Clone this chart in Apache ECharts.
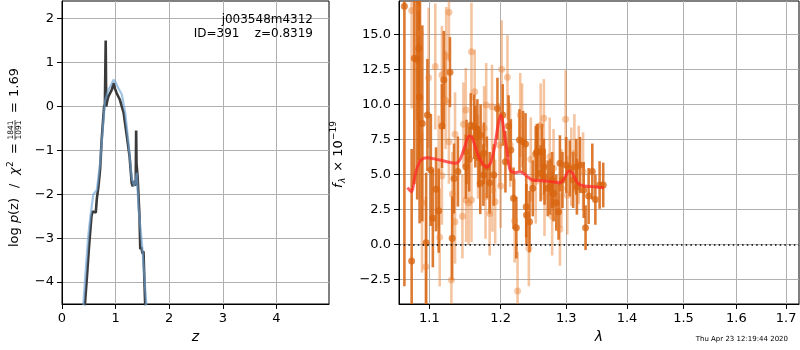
<!DOCTYPE html>
<html>
<head>
<meta charset="utf-8">
<script src="https://cdn.jsdelivr.net/npm/echarts@6/dist/echarts.min.js"></script>
<style>
  html, body { margin: 0; padding: 0; background: #fff; }
  #main { width: 800px; height: 350px; }
</style>
</head>
<body>
<div id="main"></div>
<script>
let mychart = echarts.init(document.getElementById('main'));
let option = null

const FONT = 'DejaVu Sans'

// left panel: log p(z) curves
let pzZ = [0.42, 0.43, 0.47, 0.51, 0.55, 0.57, 0.60, 0.63, 0.65, 0.68, 0.70, 0.71, 0.74, 0.785, 0.80, 0.815, 0.825, 0.84, 0.866, 0.90, 0.93, 0.96, 0.99, 1.02, 1.08, 1.15, 1.21, 1.26, 1.30, 1.32, 1.34, 1.36, 1.375, 1.383, 1.39, 1.41, 1.445, 1.46, 1.48, 1.50, 1.52, 1.55, 1.56]
let pzLog = [-5.0, -4.47, -3.8, -3.1, -2.5, -2.39, -2.36, -2.42, -2.1, -1.82, -1.85, -1.44, -0.76, 0.0, 0.05, 1.5, 0.0, 0.1, 0.23, 0.25, 0.38, 0.53, 0.4, 0.3, 0.15, -0.15, -0.68, -1.14, -1.74, -1.82, -1.7, -1.8, -1.75, -0.55, -1.3, -1.6, -2.5, -3.25, -3.2, -3.35, -3.3, -4.47, -5.0]
let chiZ = [0.39, 0.40, 0.45, 0.49, 0.53, 0.585, 0.62, 0.65, 0.68, 0.71, 0.76, 0.80, 0.866, 0.92, 0.96, 1.0, 1.05, 1.115, 1.18, 1.24, 1.30, 1.346, 1.37, 1.395, 1.41, 1.43, 1.49, 1.52, 1.57, 1.58]
let chiLog = [-5.0, -4.47, -3.6, -2.95, -2.5, -2.0, -1.95, -1.9, -1.6, -1.29, -0.53, 0.11, 0.38, 0.5, 0.61, 0.55, 0.42, 0.27, -0.15, -0.83, -1.63, -1.82, -1.7, -1.51, -1.9, -2.35, -3.1, -3.6, -4.47, -5.0]

// right panel: spectrum, two orientations
let darkWave = [1.067, 1.0765, 1.080, 1.0838, 1.086, 1.087, 1.0906, 1.0957, 1.0974, 1.102, 1.1047, 1.109, 1.1126, 1.117, 1.1196, 1.128, 1.131, 1.1336, 1.139, 1.150, 1.151, 1.1547, 1.157, 1.1617, 1.1635, 1.1664, 1.168, 1.1705, 1.171, 1.175, 1.1757, 1.18, 1.184, 1.19, 1.1953, 1.203, 1.207, 1.2116, 1.215, 1.219, 1.2232, 1.2279, 1.2333, 1.237, 1.238, 1.2384, 1.243, 1.248, 1.2525, 1.254, 1.256, 1.26, 1.262, 1.265, 1.266, 1.271, 1.275, 1.2778, 1.28, 1.2843, 1.2879, 1.29, 1.294, 1.300, 1.3056, 1.311, 1.316, 1.317, 1.322, 1.328, 1.331, 1.336, 1.342, 1.347, 1.354, 1.36]
let darkFlux = [17.0, -1.19, 13.3, 13.2, 14.0, 10.5, 8.64, 0.12, 9.24, 5.31, 1.86, 3.93, 2.4, 8.45, 11.74, 12.3, 0.43, 4.7, 5.2, 5.54, 6.6, 6.07, 8.5, 8.4, 7.69, 8.17, 6.26, 4.36, 7.8, 4.95, 6.5, 5.5, 4.4, 4.95, 9.7, 9.24, 5.9, 8.45, 6.74, 3.29, 1.19, 7.45, 7.33, 7.17, 2.69, 2.1, 1.62, 4.0, 6.45, 6.6, 6.62, 5.07, 6.6, 5.54, 4.83, 4.0, 4.12, 4.6, 3.64, 2.98, 2.33, 5.79, 4.6, 5.67, 5.43, 4.6, 5.54, 4.12, 5.67, 3.88, 1.19, 3.45, 5.2, 3.2, 4.24, 4.24]
let darkErr = [20, 8, 9, 10, 8, 9, 7, 5, 4, 4, 3.5, 3, 3, 3, 3.5, 2.5, 3, 2.5, 2.5, 2.3, 2.3, 2.3, 2.3, 2.3, 2.2, 2.2, 2.2, 2.2, 2.2, 2.2, 2.2, 2.2, 2.2, 2.2, 2.2, 2.2, 2.2, 2.2, 2.2, 2.2, 2.2, 2.2, 2.2, 2.2, 2.2, 2.2, 2.2, 2.0, 2.0, 2.0, 2.0, 2.0, 2.0, 2.0, 2.0, 2.0, 2.0, 2.0, 2.0, 2.0, 2.0, 2.0, 2.0, 2.0, 2.0, 2.0, 2.0, 2.0, 2.0, 2.0, 1.6, 2.0, 2.0, 1.8, 1.7, 1.6]

let lightWave = [1.0765, 1.083, 1.088, 1.0902, 1.0953, 1.099, 1.108, 1.1126, 1.114, 1.117, 1.117, 1.122, 1.1229, 1.1266, 1.1266, 1.13, 1.1313, 1.135, 1.135, 1.1453, 1.1467, 1.15, 1.1505, 1.154, 1.158, 1.158, 1.1626, 1.1673, 1.176, 1.178, 1.179, 1.184, 1.1874, 1.188, 1.192, 1.198, 1.2015, 1.2, 1.21, 1.214, 1.2207, 1.225, 1.229, 1.2318, 1.242, 1.245, 1.2525, 1.26, 1.265, 1.266, 1.274, 1.2778, 1.28, 1.29, 1.2924, 1.299, 1.3017, 1.308, 1.313, 1.32, 1.327]
let lightFlux = [16.7, 16.9, 15.07, 2.98, -1.6, 11.9, 12.7, 5.2, 0.5, 4.9, 12.1, 10.3, 13.45, 7.33, 16.57, -2.55, 3.6, 7.86, 1.62, 2.0, 8.57, 9.6, 3.17, 2.98, 3.17, 13.76, 10.9, 6.26, 8.3, 3.4, 9.95, 2.2, 9.83, 3.9, 3.05, 7.1, 12.5, 4.17, 11.93, 7.1, 1.69, -3.33, 9.24, 8.5, -0.29, 6.07, 4.48, 8.5, 9.0, 3.4, 6.26, 2.0, 5.43, 1.07, 4.0, 8.93, 3.5, 5.55, 6.5, 5.67, 5.2]
let lightErr = [7, 8, 8, 5, 5, 5, 4.5, 4, 3.5, 3.5, 3.5, 3.5, 3.5, 3, 3.5, 3, 3, 3, 3, 3, 3, 3, 3, 3, 3, 3.5, 3, 3, 3, 3, 3, 3, 3, 3, 3, 3, 3.5, 3, 3, 3, 3, 2.8, 3, 3, 2.7, 3, 3, 3, 2.8, 2.8, 2.8, 2.8, 2.8, 2.6, 2.8, 3.5, 2.8, 2.8, 2.8, 2.8, 2.8]

let modelWave = [1.071, 1.076, 1.0816, 1.088, 1.097, 1.110, 1.124, 1.136, 1.142, 1.1486, 1.1547, 1.1593, 1.1664, 1.1734, 1.18, 1.186, 1.192, 1.1967, 1.2005, 1.204, 1.209, 1.214, 1.2217, 1.229, 1.237, 1.247, 1.26, 1.275, 1.29, 1.297, 1.3044, 1.31, 1.318, 1.328, 1.345, 1.361]
let modelFlux = [4.05, 3.76, 5.07, 5.98, 6.19, 6.07, 5.9, 5.79, 6.07, 6.98, 7.74, 7.57, 6.5, 5.79, 5.5, 5.9, 7.21, 8.64, 9.24, 8.4, 6.74, 5.31, 5.12, 5.19, 4.95, 4.6, 4.55, 4.48, 4.4, 4.71, 5.24, 5.07, 4.4, 4.17, 4.12, 4.05]

let zTicks = [0, 1, 2, 3, 4]
let pzTicks = [-4, -3, -2, -1, 0, 1, 2]
let waveTicks = [1.1, 1.2, 1.3, 1.4, 1.5, 1.6, 1.7]
let fluxTicks = [-2.5, 0, 2.5, 5, 7.5, 10, 12.5, 15]

function pairs(xs, ys) {
    return xs.map((x, i) => [x, ys[i]])
}
function logPairs(xs, ys, es) {
    return xs.map((x, i) => es ? [Math.log10(x), ys[i], es[i]] : [Math.log10(x), ys[i]])
}
function minus(s) {
    return String(s).replace('-', '\u2212')
}

function errorBars(color) {
    return function (params, api) {
        let x = api.value(0), y = api.value(1), e = api.value(2)
        let p1 = api.coord([x, y + e])
        let p2 = api.coord([x, y - e])
        let cs = params.coordSys
        let top = cs.y, bot = cs.y + cs.height
        let y1 = Math.max(p1[1], top), y2 = Math.min(p2[1], bot)
        if (y2 <= y1) return null
        return {
            type: 'line',
            shape: { x1: p1[0], y1: y1, x2: p1[0], y2: y2 },
            style: { stroke: color, lineWidth: 2.6 }
        }
    }
}

let axisCommon = {
    axisLine: { show: true, onZero: false, lineStyle: { color: '#000', width: 1 } },
    axisTick: { show: true, inside: false, length: 5, lineStyle: { color: '#000', width: 1 } },
    splitLine: { show: true, lineStyle: { color: '#b0b0b0', width: 1 } },
    axisLabel: { color: '#000', fontSize: 13, fontFamily: FONT, margin: 8 }
}

function axis(extra, ticks, fmt) {
    let a = JSON.parse(JSON.stringify(axisCommon))
    a.axisTick.customValues = ticks
    a.axisLabel.customValues = ticks
    a.axisLabel.formatter = fmt
    return Object.assign(a, extra)
}

// small helper for the rotated label pieces
function txt(x, y, s, size, italic) {
    return {
        type: 'text', x: x, y: y,
        style: {
            text: s, fontSize: size, fontFamily: FONT, fontStyle: italic ? 'italic' : 'normal',
            fill: '#000', align: 'left', verticalAlign: 'middle'
        }
    }
}

option = {
    animation: false,
    backgroundColor: '#fff',
    grid: [
        { left: 62, right: 471, top: 1, bottom: 46, show: true, borderColor: '#000', borderWidth: 1, backgroundColor: 'transparent' },
        { left: 399, right: 1, top: 1, bottom: 46, show: true, borderColor: '#000', borderWidth: 1, backgroundColor: 'transparent' }
    ],
    xAxis: [
        axis({
            type: 'value', gridIndex: 0, min: 0, max: 4.98,
            name: 'z', nameLocation: 'middle', nameGap: 25,
            nameTextStyle: { fontSize: 14, fontStyle: 'italic', fontFamily: FONT, color: '#000' }
        }, zTicks, v => minus(v)),
        axis({
            type: 'value', gridIndex: 1, min: Math.log10(1.06), max: Math.log10(1.727),
            name: 'λ', nameLocation: 'middle', nameGap: 25,
            nameTextStyle: { fontSize: 14, fontStyle: 'italic', fontFamily: FONT, color: '#000' }
        }, waveTicks.map(v => Math.log10(v)), v => Math.pow(10, v).toFixed(1))
    ],
    yAxis: [
        axis({ type: 'value', gridIndex: 0, min: -4.5, max: 2.4 }, pzTicks, v => minus(v)),
        axis({ type: 'value', gridIndex: 1, min: -4.26, max: 17.38 }, fluxTicks, v => minus(v.toFixed(1)))
    ],
    graphic: [
        {
            type: 'text', x: 313, y: 20, z: 100,
            style: { text: 'j003548m4312', fill: '#000', fontSize: 12, fontFamily: FONT, align: 'right', verticalAlign: 'middle' }
        },
        {
            type: 'text', x: 313, y: 34, z: 100,
            style: { text: 'ID=391    z=0.8319', fill: '#000', fontSize: 12, fontFamily: FONT, align: 'right', verticalAlign: 'middle' }
        },
        {
            type: 'group', x: 15, y: 247, rotation: Math.PI / 2, z: 100,
            children: [
                txt(0, 0, 'log', 13),
                txt(24, 0, 'p', 13, true),
                txt(32, 0, '(z)', 13),
                txt(59, 0, '/', 13),
                txt(72, 0, 'χ', 13, true),
                txt(80, -4, '2', 9),
                txt(93, 0, '=', 13),
                { type: 'text', x: 117, y: -3.8, style: { text: '1841', fontSize: 7.5, fontFamily: FONT, fill: '#000', align: 'center', verticalAlign: 'middle' } },
                { type: 'line', shape: { x1: 107, y1: 0, x2: 127, y2: 0 }, style: { stroke: '#000', lineWidth: 0.7 } },
                { type: 'text', x: 117, y: 4, style: { text: '1091', fontSize: 7.5, fontFamily: FONT, fill: '#000', align: 'center', verticalAlign: 'middle' } },
                txt(134, 0, '=', 13),
                txt(150, 0, '1.69', 13)
            ]
        },
        {
            type: 'group', x: 339, y: 188, rotation: Math.PI / 2, z: 100,
            children: [
                txt(0, 0, 'f', 13, true),
                txt(5, 4, 'λ', 9, true),
                txt(12, 0, ' × 10', 13),
                txt(48, -5, '\u221219', 9)
            ]
        },
        {
            type: 'text', x: 788, y: 339, z: 100,
            style: { text: 'Thu Apr 23 12:19:44 2020', fill: '#000', fontSize: 7, fontFamily: FONT, align: 'right', verticalAlign: 'middle' }
        }
    ],
    series: [
        {
            type: 'line', xAxisIndex: 0, yAxisIndex: 0,
            data: pairs(pzZ, pzLog),
            showSymbol: false, clip: true,
            lineStyle: { color: '#3a3a3a', width: 2.6 }
        },
        {
            type: 'line', xAxisIndex: 0, yAxisIndex: 0,
            data: pairs(chiZ, chiLog),
            showSymbol: false, clip: true,
            lineStyle: { color: 'rgba(110,165,215,0.65)', width: 2.2 }
        },
        {
            type: 'custom', xAxisIndex: 1, yAxisIndex: 1,
            data: logPairs(lightWave, lightFlux, lightErr),
            renderItem: errorBars('rgba(232,125,45,0.45)'),
            markLine: {
                silent: true, symbol: 'none', label: { show: false },
                lineStyle: { color: '#000', type: [1.5, 3.2], width: 1.6 },
                data: [{ yAxis: 0 }]
            }
        },
        {
            type: 'scatter', xAxisIndex: 1, yAxisIndex: 1,
            data: logPairs(lightWave, lightFlux),
            symbolSize: 7,
            itemStyle: { color: 'rgba(232,125,45,0.5)' }
        },
        {
            type: 'custom', xAxisIndex: 1, yAxisIndex: 1,
            data: logPairs(darkWave, darkFlux, darkErr),
            renderItem: errorBars('rgba(215,100,15,0.85)')
        },
        {
            type: 'scatter', xAxisIndex: 1, yAxisIndex: 1,
            data: logPairs(darkWave, darkFlux),
            symbolSize: 7,
            itemStyle: { color: 'rgba(215,100,15,0.95)' }
        },
        {
            type: 'line', xAxisIndex: 1, yAxisIndex: 1,
            data: logPairs(modelWave, modelFlux),
            showSymbol: false, smooth: 0.3,
            lineStyle: { color: 'rgba(255,40,40,0.75)', width: 3 }
        }
    ]
};
mychart.setOption(option);
</script>
</body>
</html>
